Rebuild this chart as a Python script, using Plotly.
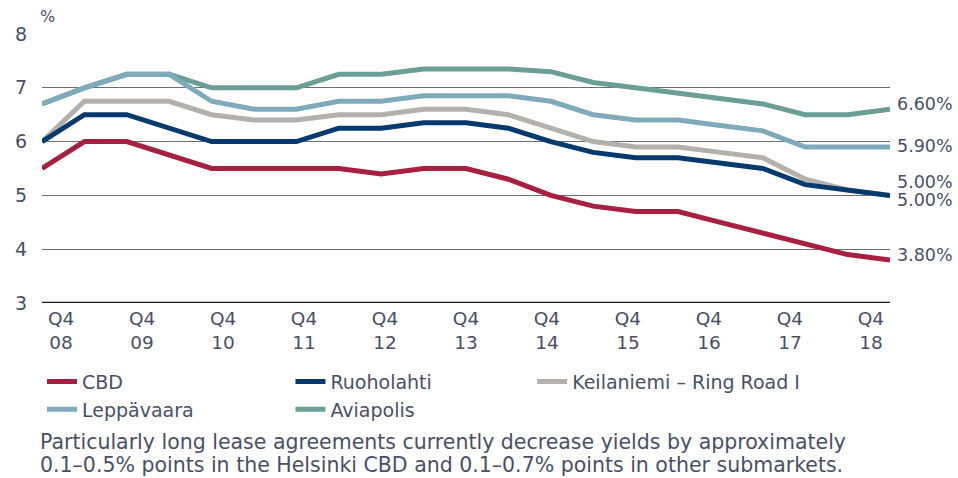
import plotly.graph_objects as go

# Half-year observation points, Q4 2008 .. Q4 2018
periods = ["Q4 08", "Q2 09", "Q4 09", "Q2 10", "Q4 10", "Q2 11", "Q4 11", "Q2 12", "Q4 12",
           "Q2 13", "Q4 13", "Q2 14", "Q4 14", "Q2 15", "Q4 15", "Q2 16", "Q4 16", "Q2 17",
           "Q4 17", "Q2 18", "Q4 18"]

cbd = [5.5, 6.0, 6.0, 5.75, 5.5, 5.5, 5.5, 5.5, 5.4, 5.5, 5.5, 5.3, 5.0, 4.8, 4.7, 4.7,
       4.5, 4.3, 4.1, 3.9, 3.8]
ruoholahti = [6.0, 6.5, 6.5, 6.25, 6.0, 6.0, 6.0, 6.25, 6.25, 6.35, 6.35, 6.25, 6.0, 5.8,
              5.7, 5.7, 5.6, 5.5, 5.2, 5.1, 5.0]
keilaniemi = [6.0, 6.75, 6.75, 6.75, 6.5, 6.4, 6.4, 6.5, 6.5, 6.6, 6.6, 6.5, 6.25, 6.0,
              5.9, 5.9, 5.8, 5.7, 5.3, 5.1, 5.0]
leppavaara = [6.7, 7.0, 7.25, 7.25, 6.75, 6.6, 6.6, 6.75, 6.75, 6.85, 6.85, 6.85, 6.75, 6.5,
              6.4, 6.4, 6.3, 6.2, 5.9, 5.9, 5.9]
aviapolis = [6.7, 7.0, 7.25, 7.25, 7.0, 7.0, 7.0, 7.25, 7.25, 7.35, 7.35, 7.35, 7.3, 7.1,
             7.0, 6.9, 6.8, 6.7, 6.5, 6.5, 6.6]

year_labels = ["Q4<br>08", "Q4<br>09", "Q4<br>10", "Q4<br>11", "Q4<br>12", "Q4<br>13",
               "Q4<br>14", "Q4<br>15", "Q4<br>16", "Q4<br>17", "Q4<br>18"]
y_ticks = [3, 4, 5, 6, 7, 8]

names = ["CBD", "Ruoholahti", "Keilaniemi – Ring Road I", "Leppävaara", "Aviapolis"]
series = [cbd, ruoholahti, keilaniemi, leppavaara, aviapolis]
colors = ["#a8203f", "#063a6e", "#b4b1ac", "#7eaaba", "#6b9f95"]
# legend column for each series (three columns, two rows)
legend_col = ["legend", "legend2", "legend3", "legend", "legend2"]
# vertical nudges so the two 5.00% end labels do not collide
label_shift = [5, 13, -5, 1, 5]

footnote = [
    "Particularly long lease agreements currently decrease yields by approximately",
    "0.1–0.5% points in the Helsinki CBD and 0.1–0.7% points in other submarkets.",
]

FONT = "DejaVu Sans"
TEXT = "#4a4f66"

xs = list(range(len(periods)))
fig = go.Figure()

# drawn bottom-to-top so CBD/Ruoholahti sit above their neighbours
for i in reversed(range(len(names))):
    fig.add_trace(go.Scatter(
        x=xs, y=series[i], name=names[i], mode="lines",
        line=dict(color=colors[i], width=5),
        legend=legend_col[i], legendrank=i + 1, hoverinfo="x+y+name",
    ))

for i, s in enumerate(series):
    fig.add_annotation(
        x=xs[-1], y=s[-1], text=f"{s[-1]:.2f}%", showarrow=False,
        xanchor="left", xshift=5, yshift=label_shift[i],
        font=dict(family=FONT, size=17.5, color=TEXT),
    )

fig.add_annotation(
    xref="paper", yref="paper", x=0, y=1, yshift=6, xshift=-4,
    text="%", showarrow=False, xanchor="left", yanchor="bottom",
    font=dict(family=FONT, size=16, color=TEXT),
)

for j, line in enumerate(footnote):
    fig.add_annotation(
        xref="paper", yref="paper", x=0, y=-0.517 - 0.086 * j, xshift=-4,
        text=line, showarrow=False, xanchor="left", yanchor="middle", align="left",
        font=dict(family=FONT, size=20.5, color=TEXT),
    )

# Q4 labels sit on an evenly spaced yearly grid spanning the plot width
tick_pos = [0.45 + 1.91 * i for i in range(len(year_labels))]

legend_style = dict(
    orientation="v", y=-0.222, xanchor="left", yanchor="top",
    font=dict(family=FONT, size=19, color=TEXT),
    itemwidth=30, tracegroupgap=0, bgcolor="rgba(0,0,0,0)",
)

fig.update_layout(
    width=958, height=478,
    margin=dict(l=42, r=68, t=34, b=175),
    paper_bgcolor="white", plot_bgcolor="white",
    font=dict(family=FONT, color=TEXT),
    showlegend=True,
    legend=dict(x=0, **legend_style),
    legend2=dict(x=0.293, **legend_style),
    legend3=dict(x=0.578, **legend_style),
    xaxis=dict(
        range=[0, len(periods) - 1], tickmode="array", tickvals=tick_pos,
        ticktext=year_labels, showgrid=False, zeroline=False,
        showline=False, ticks="", ticklabelstandoff=2,
        tickfont=dict(family=FONT, size=18.5, color=TEXT),
    ),
    yaxis=dict(
        range=[3, 8], tickmode="array", tickvals=y_ticks,
        showgrid=True, gridcolor="#6e6e6e", gridwidth=1.2,
        zeroline=False, showline=False, ticks="", ticklabelstandoff=14,
        tickfont=dict(family=FONT, size=19, color=TEXT),
    ),
)

# solid baseline along the bottom of the plot
fig.add_shape(type="line", xref="paper", yref="y", x0=0, x1=1, y0=3, y1=3,
              line=dict(color="#1a1a1a", width=2.5))

fig.write_html("out.html")
